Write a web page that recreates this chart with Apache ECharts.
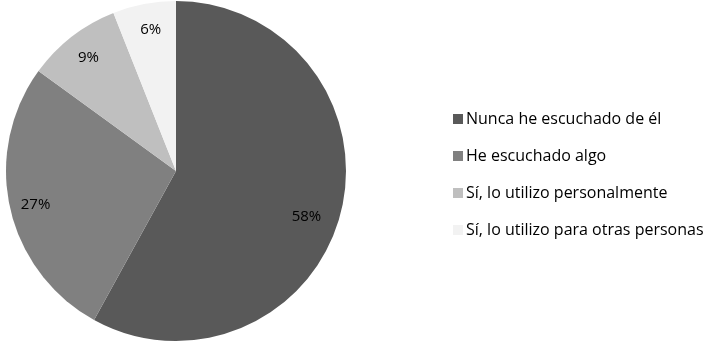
<!DOCTYPE html>
<html>
<head>
<meta charset="utf-8">
<script src="https://cdn.jsdelivr.net/npm/echarts@6/dist/echarts.min.js"></script>
<style>
html,body{margin:0;padding:0;background:#fff;}
#chart{width:710px;height:342px;}
</style>
</head>
<body>
<div id="chart"></div>
<script>
// Awareness categories and their shares (%)
const categories = [
  'Nunca he escuchado de él',
  'He escuchado algo',
  'Sí, lo utilizo personalmente',
  'Sí, lo utilizo para otras personas'
];
const shares = [58, 27, 9, 6];
const colors = ['#595959', '#808080', '#bfbfbf', '#f2f2f2'];

const font = '"Open Sans", "Noto Sans", sans-serif';
const data = categories.map((name, i) => ({ name, value: shares[i], itemStyle: { color: colors[i] } }));

const chart = echarts.init(document.getElementById('chart'), null, { renderer: 'canvas' });
chart.setOption({
  animation: false,
  legend: {
    orient: 'vertical',
    left: 448,
    top: 106,
    itemWidth: 10,
    itemHeight: 10,
    itemGap: 21,
    icon: 'rect',
    textStyle: { fontFamily: font, fontSize: 16, lineHeight: 16, color: '#000', padding: [0, 0, 0, -2] },
    data: categories
  },
  series: [
    {
      type: 'pie',
      center: [176, 171],
      radius: [0, 170],
      startAngle: 90,
      clockwise: true,
      label: { show: false },
      labelLine: { show: false },
      emphasis: { disabled: true },
      data
    },
    {
      // transparent ring carrying the percentage labels near the outer edge
      type: 'pie',
      center: [176, 171],
      radius: [116, 170],
      startAngle: 90,
      clockwise: true,
      silent: true,
      legendHoverLink: false,
      itemStyle: { color: 'rgba(0,0,0,0)' },
      label: {
        show: true,
        position: 'inside',
        formatter: p => p.value + '%',
        fontFamily: font,
        fontSize: 15,
        color: '#000'
      },
      labelLayout: p => (p.dataIndex === 0 ? { dx: -11, dy: 9 } : { dx: 2, dy: 2 }),
      labelLine: { show: false },
      emphasis: { disabled: true },
      data: categories.map((name, i) => ({ name: name + ' ', value: shares[i] }))
    }
  ]
});
</script>
</body>
</html>
